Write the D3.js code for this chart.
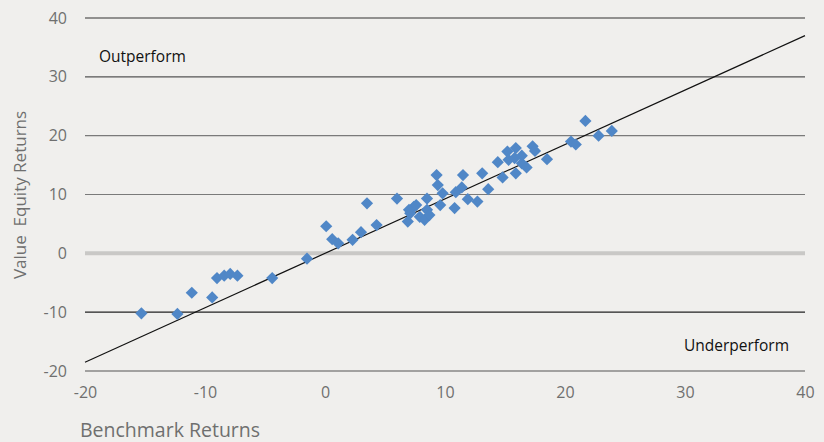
<!DOCTYPE html>
<html>
<head>
<meta charset="UTF-8">
<style>
  body { margin: 0; background: #f0efed; }
  svg { display: block; }
  text { font-family: "Open Sans", "Liberation Sans", sans-serif; }
</style>
</head>
<body>
<svg></svg>
<script src="https://d3js.org/d3.v7.min.js"></script>
<script>
let width = 824, height = 442;

// benchmark returns (x) and value equity returns (y)
var benchX = [-15.3, -12.3, -11.1, -9.4, -9.0, -8.4, -7.9, -7.3, -4.4, -1.5,
  0.1, 0.6, 1.1, 2.3, 3.0, 3.5, 4.3, 6.0, 6.9, 7.1, 7.4, 7.0, 7.6, 7.9, 8.3,
  8.5, 8.5, 8.7, 9.3, 9.4, 9.6, 9.8, 10.8, 10.9, 11.4, 11.5, 11.9, 12.7, 13.1,
  13.6, 14.4, 14.8, 15.2, 15.3, 15.9, 15.8, 15.9, 16.4, 16.4, 16.8, 17.3, 17.5,
  18.5, 20.5, 20.9, 21.7, 22.8, 23.9];
var valueY = [-10.2, -10.3, -6.7, -7.5, -4.2, -3.8, -3.5, -3.8, -4.2, -0.9,
  4.6, 2.4, 1.7, 2.3, 3.6, 8.5, 4.8, 9.3, 5.4, 6.8, 7.9, 7.4, 8.2, 6.2, 5.7,
  9.3, 7.4, 6.5, 13.3, 11.6, 8.2, 10.2, 7.7, 10.4, 11.2, 13.3, 9.2, 8.8, 13.6,
  10.9, 15.5, 12.9, 17.3, 15.9, 17.9, 16.2, 13.6, 15.3, 16.6, 14.6, 18.2, 17.4,
  16.0, 19.0, 18.5, 22.5, 20.0, 20.8];

// trend line end points
var lineX = [-20, 40];
var lineY = [-18.5, 37];

var xTicks = [-20, -10, 0, 10, 20, 30, 40];
var yTicks = [-20, -10, 0, 10, 20, 30, 40];

let svg = d3.select("svg").attr("width", width).attr("height", height);

var x = d3.scaleLinear().domain([-20, 40]).range([85, 805]);
var y = d3.scaleLinear().domain([-20, 40]).range([371, 18]);

// gridlines
var gridColor = {"-20": "#555", "-10": "#222", "0": "#c9c8c6", "10": "#7a7a7a", "20": "#7a7a7a", "30": "#555", "40": "#333"};
svg.append("g")
  .selectAll("line")
  .data(yTicks)
  .enter()
  .append("line")
  .attr("x1", x(-20)).attr("x2", x(40))
  .attr("y1", d => y(d)).attr("y2", d => y(d))
  .attr("stroke", d => gridColor[d])
  .attr("stroke-width", d => d == 0 ? 4 : 1.2);

// y axis labels
var yAxis = svg.append("g")
  .attr("transform", "translate(" + (x(-20) - 18) + ",0)")
  .call(d3.axisLeft(y).tickValues(yTicks).tickFormat(d => String(d)).tickSize(0).tickPadding(0));
yAxis.select(".domain").remove();
yAxis.selectAll("text")
  .attr("font-size", 16).attr("fill", "#6f6f6f")
  .style("font-family", "'Open Sans', sans-serif");

// x axis labels
var xAxis = svg.append("g")
  .attr("transform", "translate(0," + (y(-20) + 16) + ")")
  .call(d3.axisBottom(x).tickValues(xTicks).tickFormat(d => String(d)).tickSize(0).tickPadding(0));
xAxis.select(".domain").remove();
xAxis.selectAll("text")
  .attr("font-size", 16).attr("fill", "#6f6f6f")
  .style("font-family", "'Open Sans', sans-serif");

// trend line
svg.append("line")
  .attr("x1", x(lineX[0])).attr("y1", y(lineY[0]))
  .attr("x2", x(lineX[1])).attr("y2", y(lineY[1]))
  .attr("stroke", "#111")
  .attr("stroke-width", 1.2);

// diamonds
var points = benchX.map((d, i) => ({x: d, y: valueY[i]}));
svg.append("g")
  .selectAll("path")
  .data(points)
  .enter()
  .append("path")
  .attr("d", d3.symbol().type(d3.symbolDiamond2).size(95))
  .attr("transform", d => "translate(" + x(d.x) + "," + y(d.y) + ")")
  .attr("fill", "#5087c7");

// annotations
svg.append("text")
  .attr("x", 99).attr("y", 62)
  .attr("font-size", 15.5).attr("fill", "#111")
  .text("Outperform");
svg.append("text")
  .attr("x", 789).attr("y", 351)
  .attr("text-anchor", "end")
  .attr("font-size", 15.5).attr("fill", "#111")
  .text("Underperform");

// axis titles
svg.append("text")
  .attr("transform", "translate(26,195) rotate(-90)")
  .attr("text-anchor", "middle")
  .attr("font-size", 17).attr("fill", "#6f6f6f")
  .style("white-space", "pre")
  .text("Value  Equity Returns");
svg.append("text")
  .attr("x", 80).attr("y", 437)
  .attr("font-size", 19.5).attr("fill", "#6f6f6f")
  .text("Benchmark Returns");
</script>
</body>
</html>
